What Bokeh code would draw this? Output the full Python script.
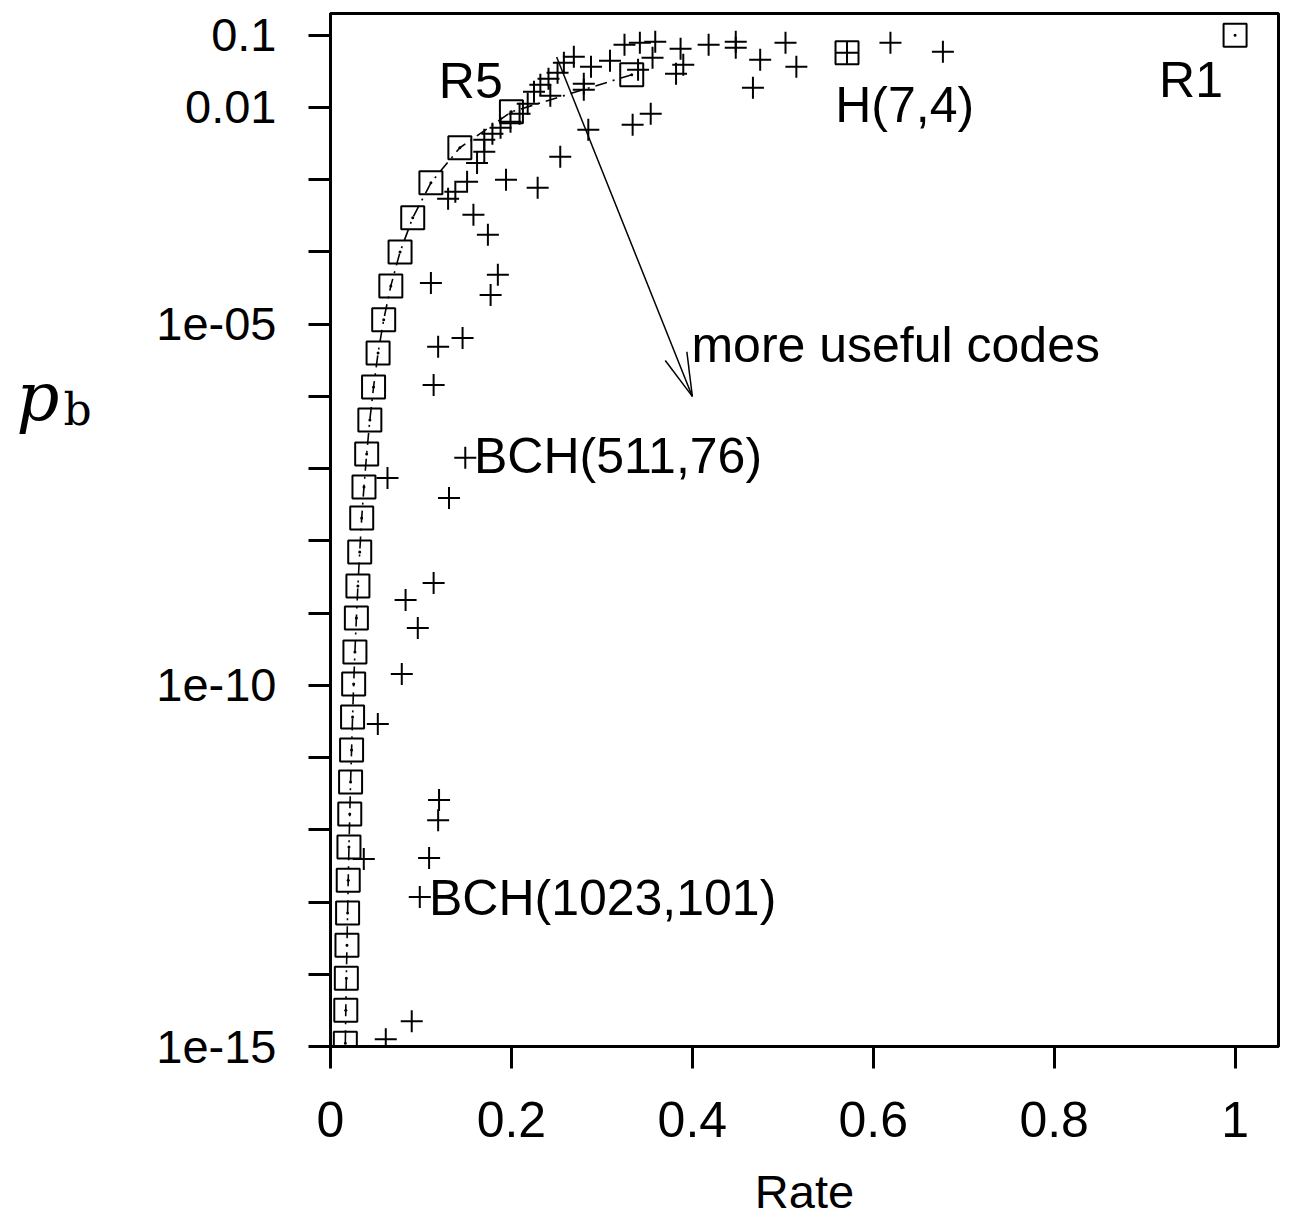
from bokeh.plotting import figure
from bokeh.layouts import row
from bokeh.models import Range1d, FixedTicker, Label
from bokeh.embed import file_html
from bokeh.resources import INLINE

# ---- data ----
# repetition codes R1, R3, R5, ... R61
rep_rate = [1.0, 0.333, 0.2, 0.143, 0.111, 0.0909, 0.0769, 0.0667, 0.0588, 0.0526,
            0.0476, 0.0435, 0.04, 0.037, 0.0345, 0.0323, 0.0303, 0.0286, 0.027, 0.0256,
            0.0244, 0.0233, 0.0222, 0.0213, 0.0204, 0.0196, 0.0189, 0.0182, 0.0175,
            0.0169, 0.0164]
rep_pb = [0.1, 0.0284, 8.7e-3, 2.77e-3, 9.06e-4, 2.97e-4, 1.0e-4, 3.39e-5, 1.15e-5,
          4.0e-6, 1.35e-6, 4.73e-7, 1.6e-7, 5.58e-8, 2.08e-8, 7.02e-9, 2.37e-9,
          8.55e-10, 2.89e-10, 1.04e-10, 3.64e-11, 1.27e-11, 4.58e-12, 1.65e-12,
          5.77e-13, 2.01e-13, 7.03e-14, 2.53e-14, 8.83e-15, 3.18e-15, 1.11e-15]

# Hamming code H(7,4)
ham_rate = [0.571]
ham_pb = [0.0572]

# BCH codes
bch_rate = [0.677, 0.619, 0.571, 0.515, 0.503, 0.475, 0.467, 0.448, 0.448, 0.418,
            0.387, 0.390, 0.382, 0.359, 0.356, 0.342, 0.340, 0.325, 0.309, 0.288,
            0.354, 0.334, 0.285, 0.254, 0.229, 0.194, 0.269, 0.258, 0.251, 0.241,
            0.232, 0.225, 0.243, 0.280, 0.280, 0.218, 0.209, 0.199, 0.188, 0.179,
            0.170, 0.170, 0.162, 0.151, 0.138, 0.130, 0.158, 0.174, 0.185, 0.177,
            0.111, 0.146, 0.119, 0.114, 0.149, 0.063, 0.131, 0.114, 0.083, 0.0965,
            0.0788, 0.0523, 0.120, 0.119, 0.0368, 0.109, 0.0987, 0.0898, 0.0611]
bch_pb = [0.0591, 0.0787, 0.0572, 0.0366, 0.0787, 0.0458, 0.0188, 0.0813, 0.0671, 0.0739,
          0.065, 0.039, 0.0293, 0.0813, 0.0488, 0.0787, 0.0333, 0.0739, 0.0443, 0.0366,
          0.00818, 0.00576, 0.00491, 0.00208, 7.72e-4, 9.97e-4, 0.0504, 0.0416, 0.0302, 0.0250,
          0.0206, 0.0165, 0.0145, 0.0213, 0.0176, 0.01125, 0.00818, 0.00634, 0.00523, 0.00432,
          0.00357, 0.00243, 0.00171, 9.35e-4, 6.8e-4, 5.44e-4, 3.27e-4, 1.73e-4, 4.82e-5, 2.54e-5,
          3.73e-5, 6.46e-6, 4.85e-6, 1.44e-6, 1.41e-7, 7.43e-8, 3.93e-8, 2.61e-9, 1.52e-9, 6.22e-10,
          1.43e-10, 2.91e-11, 2.58e-12, 1.36e-12, 3.93e-13, 4.06e-13, 1.17e-13, 2.24e-15, 1.26e-15]

# tick labels
x_ticks = [0.0, 0.2, 0.4, 0.6, 0.8, 1.0]
x_tick_labels = ["0", "0.2", "0.4", "0.6", "0.8", "1"]
y_ticks = [0.1, 0.01, 1e-05, 1e-10, 1e-15]
y_tick_labels = ["0.1", "0.01", "1e-05", "1e-10", "1e-15"]
y_minor_ticks = [1e-3, 1e-4, 1e-6, 1e-7, 1e-8, 1e-9, 1e-11, 1e-12, 1e-13, 1e-14]

# annotations
label_texts = ["R5", "R1", "H(7,4)", "more useful codes", "BCH(511,76)", "BCH(1023,101)"]
label_x = [0.1197, 0.916, 0.558, 0.399, 0.1586, 0.1088]
label_y = [0.0231, 0.0238, 0.0108, 5.2e-6, 1.51e-7, 1.15e-13]
arrow_from = (0.25, 0.05)
arrow_to = (0.4, 1e-6)
x_title = "Rate"
y_title_main = "p"
y_title_sub = "b"

FONT = "Liberation Sans"
W_LEFT = 120
H_TOTAL = 1218

# ---- narrow panel that carries the y title p_b ----
left = figure(frame_width=W_LEFT, frame_height=H_TOTAL,
              x_range=Range1d(0, W_LEFT), y_range=Range1d(H_TOTAL, 0),
              output_backend="svg", toolbar_location=None,
              x_axis_location=None, y_axis_location=None,
              min_border_left=0, min_border_right=0, min_border_top=0, min_border_bottom=0)
left.outline_line_color = None
left.grid.visible = False
left.background_fill_color = "white"
left.border_fill_color = "white"
left.add_layout(Label(x=16, y=383, text=y_title_main, text_font="DejaVu Serif",
                      text_font_style="italic", text_font_size="67px", text_color="black",
                      text_align="left", text_baseline="alphabetic"))
left.add_layout(Label(x=63, y=396, text=y_title_sub, text_font="DejaVu Serif",
                      text_font_size="44px", text_color="black",
                      text_align="left", text_baseline="alphabetic"))

# ---- main chart ----
p = figure(frame_width=948, frame_height=1033,
           x_range=Range1d(0, 1.048), y_range=Range1d(1e-15, 0.2),
           y_axis_type="log", output_backend="svg", toolbar_location=None,
           min_border_left=330 - W_LEFT, min_border_top=13, min_border_right=8,
           min_border_bottom=172)
p.background_fill_color = "white"
p.border_fill_color = "white"
p.grid.visible = False
p.outline_line_color = "black"
p.outline_line_width = 3
p.outline_line_alpha = 1.0

xa = p.xaxis[0]
xa.ticker = FixedTicker(ticks=x_ticks)
xa.major_label_overrides = {t: s for t, s in zip(x_ticks, x_tick_labels)}
ya = p.yaxis[0]
ya.ticker = FixedTicker(ticks=y_ticks, minor_ticks=y_minor_ticks)
ya.major_label_overrides = {t: s for t, s in zip(y_ticks, y_tick_labels)}
for ax in (xa, ya):
    ax.axis_line_width = 3
    ax.axis_line_color = "black"
    ax.major_tick_line_width = 3
    ax.major_tick_line_color = "black"
    ax.major_tick_in = 0
    ax.major_tick_out = 22
    ax.minor_tick_line_width = 3
    ax.minor_tick_line_color = "black"
    ax.minor_tick_in = 0
    ax.minor_tick_out = 22
    ax.major_label_text_font = FONT
    ax.major_label_text_color = "black"
xa.minor_tick_line_color = None
xa.major_label_text_font_size = "50px"
xa.major_label_standoff = 33
xa.axis_label = x_title
xa.axis_label_text_font = FONT
xa.axis_label_text_font_size = "47px"
xa.axis_label_text_font_style = "normal"
xa.axis_label_text_color = "black"
xa.axis_label_standoff = 25
ya.major_label_text_font_size = "47px"
ya.major_label_standoff = 32

# dashed line through repetition codes R3..R61
p.line(rep_rate[1:], rep_pb[1:], line_color="black", line_width=1.6, line_dash="12 6 2 6")

# BCH codes
p.scatter(bch_rate, bch_pb, marker="cross", size=22, line_color="black", line_width=2)
# repetition codes
p.scatter(rep_rate, rep_pb, marker="square", size=23, fill_color=None,
          line_color="black", line_width=2)
p.scatter(rep_rate, rep_pb, marker="circle", size=3, fill_color="black", line_color=None)
# Hamming code
p.scatter(ham_rate, ham_pb, marker="square", size=23, fill_color=None,
          line_color="black", line_width=2)

# arrow "more useful codes"
p.segment(x0=[arrow_from[0]], y0=[arrow_from[1]], x1=[arrow_to[0]], y1=[arrow_to[1]],
          line_color="black", line_width=1.5)
p.ray(x=[arrow_to[0], arrow_to[0]], y=[arrow_to[1], arrow_to[1]], length=45,
      length_units="screen", angle=[127.0, 97.0], angle_units="deg",
      line_color="black", line_width=1.5)

for t, x, y in zip(label_texts, label_x, label_y):
    p.add_layout(Label(x=x, y=y, text=t, text_font=FONT, text_font_size="50px",
                       text_color="black", text_align="left", text_baseline="alphabetic"))

open("out.html", "w").write(file_html(row(left, p), INLINE))
